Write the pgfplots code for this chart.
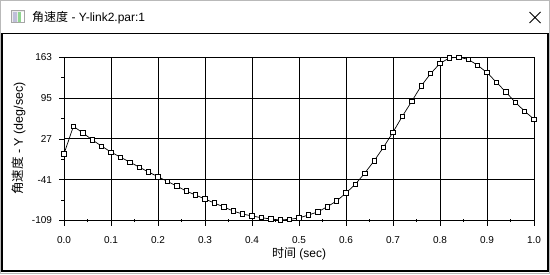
\documentclass[border=0pt]{standalone}
\usepackage{fontspec}
\setmainfont{Liberation Sans}
\newfontfamily\cjk{Noto Sans CJK SC}
\usepackage{pgfplots}
\usepackage{pgfplotstable}
\pgfplotsset{compat=1.18}

\pgfplotstableread{
t v
0.00 2
0.02 48
0.04 37
0.06 25.5
0.08 15
0.10 5
0.12 -3.4
0.14 -11.7
0.16 -20
0.18 -28.3
0.20 -36
0.22 -43.8
0.24 -51.6
0.26 -59.9
0.28 -66.6
0.30 -73.2
0.32 -79.9
0.34 -86.5
0.36 -93.2
0.38 -98.2
0.40 -101.5
0.42 -104.3
0.44 -106.5
0.46 -108.2
0.48 -107
0.50 -104.8
0.52 -99.8
0.54 -94.8
0.56 -86
0.58 -76.5
0.60 -63.2
0.62 -48.5
0.64 -30
0.66 -9.4
0.68 13.3
0.70 38.2
0.72 64.9
0.74 89.8
0.76 115.3
0.78 135.8
0.80 152.8
0.82 162
0.84 163
0.86 159.7
0.88 149.7
0.90 137.5
0.92 121.4
0.94 105.3
0.96 88.1
0.98 73.2
1.00 59.9
}\data

\begin{document}
\begin{tikzpicture}[x=1pt,y=1pt]
\path[use as bounding box] (0,0) rectangle (550,274);
\fill[white] (0,0) rectangle (550,274);
% window border
\draw[gray!55, line width=1pt] (0.5,0.5) rectangle (549.5,273.5);
% title icon
\draw[gray!70, fill=gray!15, line width=0.8pt] (11.5,251.5) rectangle (24.5,263.5);
\fill[blue!25!gray!40] (12.5,252.5) rectangle (17,262.5);
\fill[green!45!gray!60] (17.5,252.5) rectangle (20.5,262.5);
\fill[white] (21,252.5) rectangle (23.5,262.5);
% title text
\node[anchor=base west, inner sep=0pt, font=\fontsize{12}{14}\selectfont] at (32,253) {{\cjk 角速度} - Y-link2.par:1};
% close X
\draw[black, line width=0.8pt] (529.5,262) -- (540.5,251) (529.5,251) -- (540.5,262);
% inner frame
\draw[black, line width=1.3pt] (2,3) rectangle (548,240.7);
% axis labels
\node[rotate=90, anchor=center, inner sep=0pt, font=\fontsize{12.5}{14}\selectfont] at (19,135.5) {{\cjk 角速度} - Y (deg/sec)};
\node[anchor=center, inner sep=0pt, font=\fontsize{12}{14}\selectfont] at (299,20) {{\cjk 时间} (sec)};
\begin{axis}[
  at={(64pt,53.5pt)}, anchor=south west,
  scale only axis, width=470pt, height=163.2pt,
  xmin=0, xmax=1, ymin=-109, ymax=163,
  xtick={0,0.1,0.2,0.3,0.4,0.5,0.6,0.7,0.8,0.9,1.0},
  ytick={-109,-41,27,95,163},
  minor x tick num=1, minor y tick num=1,
  tick align=outside, tick pos=left,
  major tick length=5pt, minor tick length=3pt,
  grid=major,
  major grid style={black, line width=0.9pt},
  axis line style={black, line width=0.9pt},
  every tick/.style={black, line width=0.8pt},
  minor x tick style={yshift=1.5pt},
  tick label style={font=\fontsize{10}{12}\selectfont},
  /pgf/number format/assume math mode=true,
  xticklabel style={/pgf/number format/.cd, fixed, fixed zerofill, precision=1, /tikz/.cd, yshift=-7pt},
  yticklabel style={xshift=-3.5pt},
  clip=false,
]
\addplot[black, line width=0.7pt, mark=square*, mark size=2.2pt,
  mark options={fill=white, draw=black, line width=0.8pt, solid}] table[x=t, y=v] {\data};
\end{axis}
\end{tikzpicture}
\end{document}
